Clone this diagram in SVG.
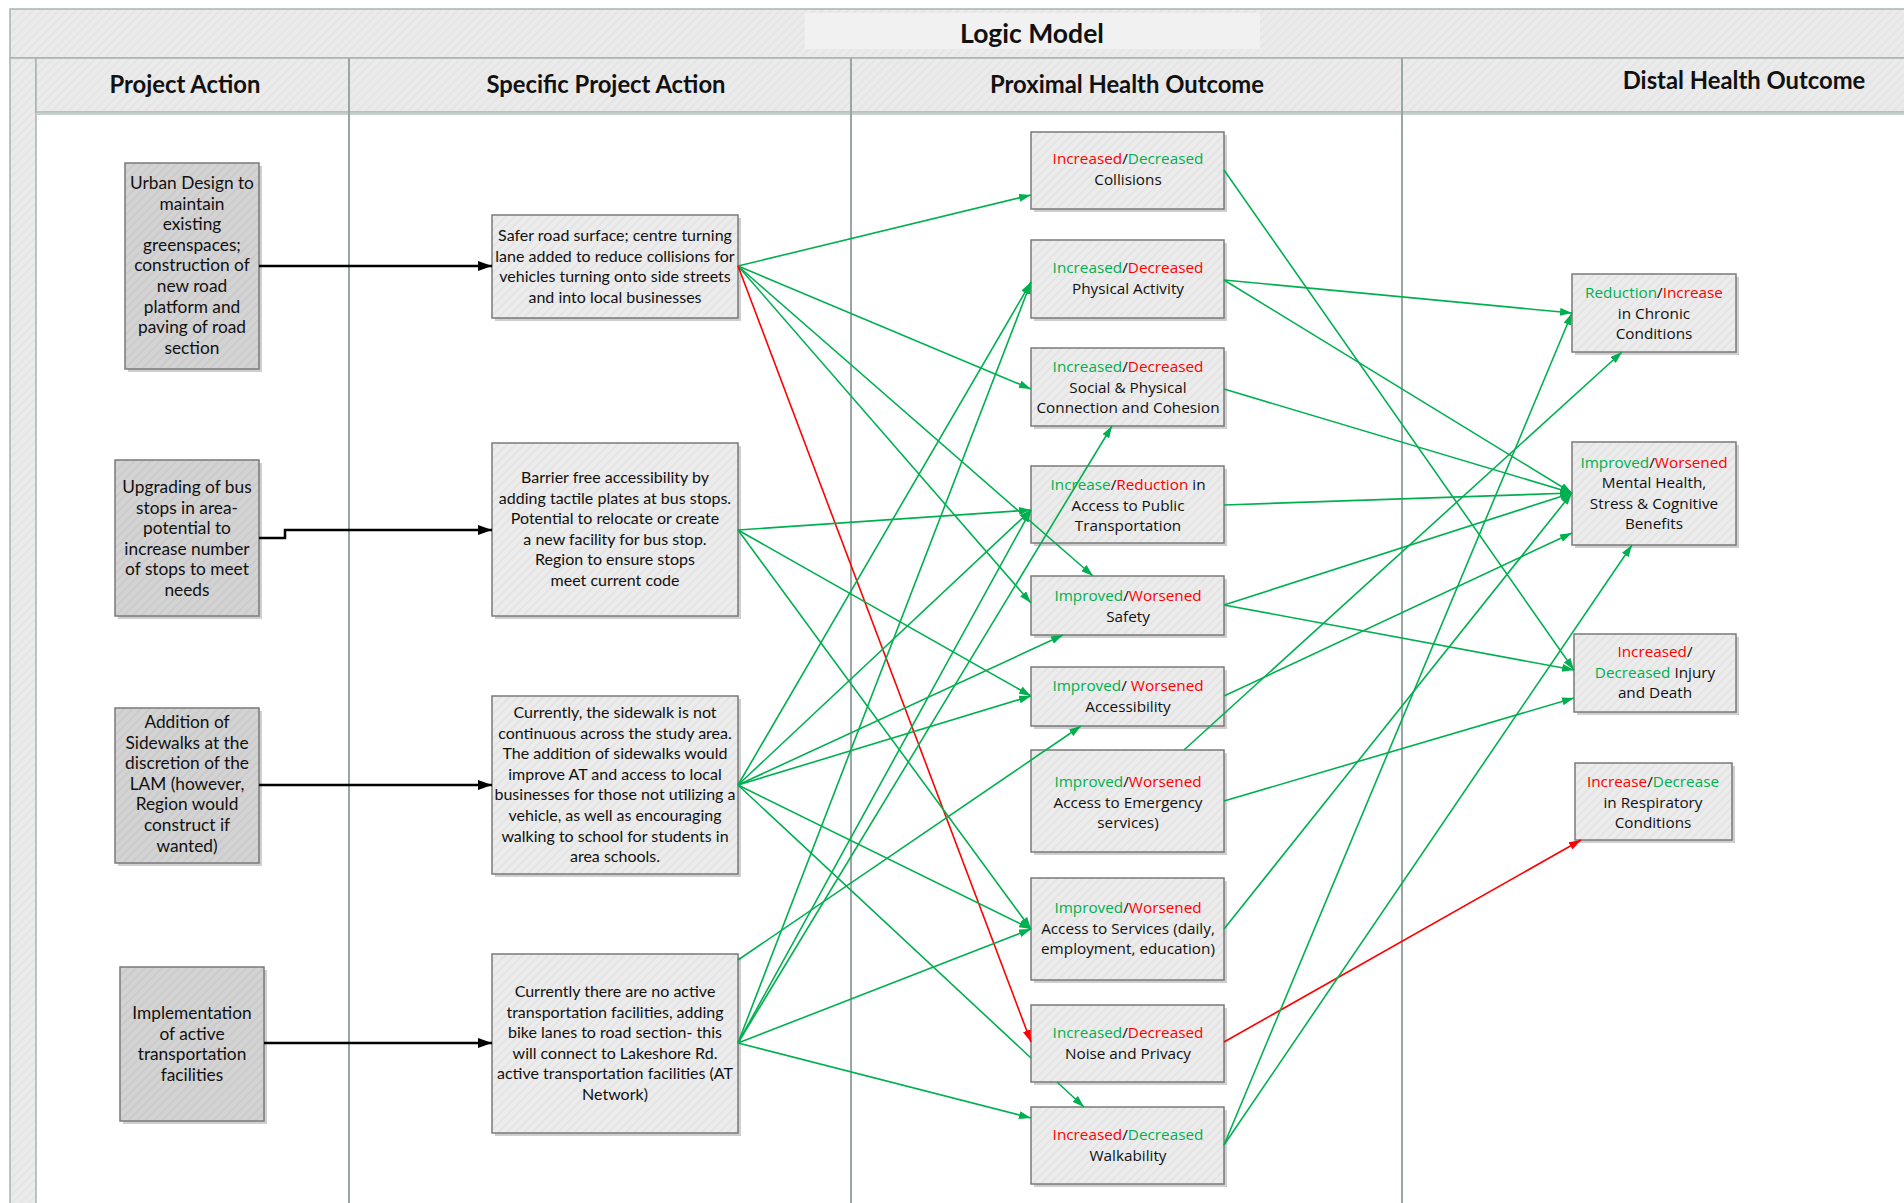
<svg xmlns="http://www.w3.org/2000/svg" width="1904" height="1203" viewBox="0 0 1904 1203">
<style>
.band{fill:url(#hband);stroke:#a6b4b1;stroke-width:1.5}
.hdr{font-family:Lato,"Liberation Sans",sans-serif;font-weight:700;font-size:23.8px;fill:#111;text-anchor:middle}
.title{font-family:Lato,"Liberation Sans",sans-serif;font-weight:700;font-size:26.5px;fill:#111;text-anchor:middle}
.lane{stroke:#9aa6a4;stroke-width:2}
.b1{fill:url(#hdark);stroke:#7a7a7a;stroke-width:1.5}
.b2{fill:url(#hlight);stroke:#7a7a7a;stroke-width:1.5}
.sh{fill:#cfcfcf}
.t1{font-family:Lato,"Liberation Sans",sans-serif;font-size:17.3px;fill:#111;text-anchor:middle}
.t2{font-family:Lato,"Liberation Sans",sans-serif;font-size:16px;fill:#111;text-anchor:middle}
.t3{font-family:"Open Sans","Noto Sans",sans-serif;font-size:15.3px;fill:#111;text-anchor:middle}
.gr{fill:#00b050}
.rd{fill:#ff0000}
.k{stroke:#000;stroke-width:2.5;fill:none;marker-end:url(#ak)}
.g{stroke:#00b050;stroke-width:1.6;fill:none;marker-end:url(#ag)}
.r{stroke:#ff0000;stroke-width:1.6;fill:none;marker-end:url(#ar)}
</style>
<defs>
<pattern id="hlight" width="6" height="6" patternUnits="userSpaceOnUse" patternTransform="rotate(45)">
<rect width="6" height="6" fill="#ececec"/><rect width="2" height="6" fill="#e4e4e4"/></pattern>
<pattern id="hdark" width="6" height="6" patternUnits="userSpaceOnUse" patternTransform="rotate(45)">
<rect width="6" height="6" fill="#d3d3d3"/><rect width="2" height="6" fill="#cbcbcb"/></pattern>
<pattern id="hband" width="6" height="6" patternUnits="userSpaceOnUse" patternTransform="rotate(45)">
<rect width="6" height="6" fill="#ebebeb"/><rect width="2" height="6" fill="#e5e5e5"/></pattern>
<marker id="ag" viewBox="0 0 12 8" refX="12" refY="4" markerWidth="12" markerHeight="8" markerUnits="userSpaceOnUse" orient="auto"><path d="M0,0 L12,4 L0,8 z" fill="#00b050"/></marker>
<marker id="ar" viewBox="0 0 12 8" refX="12" refY="4" markerWidth="12" markerHeight="8" markerUnits="userSpaceOnUse" orient="auto"><path d="M0,0 L12,4 L0,8 z" fill="#ff0000"/></marker>
<marker id="ak" viewBox="0 0 14 10" refX="14" refY="5" markerWidth="14" markerHeight="10" markerUnits="userSpaceOnUse" orient="auto"><path d="M0,0 L14,5 L0,10 z" fill="#000"/></marker>
</defs>
<rect width="1904" height="1203" fill="#fff"/>
<g id="frame">
<rect class="band" x="10" y="9" width="1900" height="49"/>
<rect x="805" y="13" width="455" height="36" fill="#f1f1f1"/>
<text class="title" x="1032" y="43">Logic Model</text>
<rect class="band" x="10" y="58" width="26" height="1150"/>
<rect class="band" x="36" y="58" width="1870" height="54"/>
<line x1="36" y1="114" x2="1904" y2="114" stroke="#c9d1cf" stroke-width="2"/>
<line class="lane" x1="349" y1="58" x2="349" y2="1203"/>
<line class="lane" x1="851" y1="58" x2="851" y2="1203"/>
<line class="lane" x1="1402" y1="58" x2="1402" y2="1203"/>
<text class="hdr" x="185" y="93">Project Action</text>
<text class="hdr" x="606" y="93">Specific Project Action</text>
<text class="hdr" x="1127" y="93">Proximal Health Outcome</text>
<text class="hdr" x="1744" y="89">Distal Health Outcome</text>
</g>
<g id="n-urban"><rect class="sh" x="128" y="166" width="134" height="206"/><rect class="b1" x="125" y="163" width="134" height="206"/>
<text class="t1" x="192" y="189"><tspan x="192">Urban Design to</tspan><tspan x="192" dy="20.6">maintain</tspan><tspan x="192" dy="20.6">existing</tspan><tspan x="192" dy="20.6">greenspaces;</tspan><tspan x="192" dy="20.6">construction of</tspan><tspan x="192" dy="20.6">new road</tspan><tspan x="192" dy="20.6">platform and</tspan><tspan x="192" dy="20.6">paving of road</tspan><tspan x="192" dy="20.6">section</tspan></text></g>
<g id="n-bus"><rect class="sh" x="118" y="463" width="144" height="156"/><rect class="b1" x="115" y="460" width="144" height="156"/>
<text class="t1" x="187" y="493"><tspan x="187">Upgrading of bus</tspan><tspan x="187" dy="20.6">stops in area-</tspan><tspan x="187" dy="20.6">potential to</tspan><tspan x="187" dy="20.6">increase number</tspan><tspan x="187" dy="20.6">of stops to meet</tspan><tspan x="187" dy="20.6">needs</tspan></text></g>
<g id="n-sidewalks"><rect class="sh" x="118" y="711" width="144" height="155"/><rect class="b1" x="115" y="708" width="144" height="155"/>
<text class="t1" x="187" y="728"><tspan x="187">Addition of</tspan><tspan x="187" dy="20.6">Sidewalks at the</tspan><tspan x="187" dy="20.6">discretion of the</tspan><tspan x="187" dy="20.6">LAM (however,</tspan><tspan x="187" dy="20.6">Region would</tspan><tspan x="187" dy="20.6">construct if</tspan><tspan x="187" dy="20.6">wanted)</tspan></text></g>
<g id="n-at"><rect class="sh" x="123" y="970" width="144" height="154"/><rect class="b1" x="120" y="967" width="144" height="154"/>
<text class="t1" x="192" y="1019"><tspan x="192">Implementation</tspan><tspan x="192" dy="20.6">of active</tspan><tspan x="192" dy="20.6">transportation</tspan><tspan x="192" dy="20.6">facilities</tspan></text></g>
<g id="n-safer"><rect class="sh" x="495" y="218" width="246" height="103"/><rect class="b2" x="492" y="215" width="246" height="103"/>
<text class="t2" x="615" y="241"><tspan x="615">Safer road surface; centre turning</tspan><tspan x="615" dy="20.6">lane added to reduce collisions for</tspan><tspan x="615" dy="20.6">vehicles turning onto side streets</tspan><tspan x="615" dy="20.6">and into local businesses</tspan></text></g>
<g id="n-barrier"><rect class="sh" x="495" y="446" width="246" height="173"/><rect class="b2" x="492" y="443" width="246" height="173"/>
<text class="t2" x="615" y="483"><tspan x="615">Barrier free accessibility by</tspan><tspan x="615" dy="20.6">adding tactile plates at bus stops.</tspan><tspan x="615" dy="20.6">Potential to relocate or create</tspan><tspan x="615" dy="20.6">a new facility for bus stop.</tspan><tspan x="615" dy="20.6">Region to ensure stops</tspan><tspan x="615" dy="20.6">meet current code</tspan></text></g>
<g id="n-sidewalk-detail"><rect class="sh" x="495" y="699" width="246" height="178"/><rect class="b2" x="492" y="696" width="246" height="178"/>
<text class="t2" x="615" y="718"><tspan x="615">Currently, the sidewalk is not</tspan><tspan x="615" dy="20.6">continuous across the study area.</tspan><tspan x="615" dy="20.6">The addition of sidewalks would</tspan><tspan x="615" dy="20.6">improve AT and access to local</tspan><tspan x="615" dy="20.6">businesses for those not utilizing a</tspan><tspan x="615" dy="20.6">vehicle, as well as encouraging</tspan><tspan x="615" dy="20.6">walking to school for students in</tspan><tspan x="615" dy="20.6">area schools.</tspan></text></g>
<g id="n-at-detail"><rect class="sh" x="495" y="957" width="246" height="179"/><rect class="b2" x="492" y="954" width="246" height="179"/>
<text class="t2" x="615" y="997"><tspan x="615">Currently there are no active</tspan><tspan x="615" dy="20.6">transportation facilities, adding</tspan><tspan x="615" dy="20.6">bike lanes to road section- this</tspan><tspan x="615" dy="20.6">will connect to Lakeshore Rd.</tspan><tspan x="615" dy="20.6">active transportation facilities (AT</tspan><tspan x="615" dy="20.6">Network)</tspan></text></g>
<g id="p-collisions"><rect class="sh" x="1034" y="135" width="193" height="77"/><rect class="b2" x="1031" y="132" width="193" height="77"/>
<text class="t3" x="1128" y="164"><tspan class="rd">Increased</tspan>/<tspan class="gr">Decreased</tspan><tspan x="1128" dy="20.6">Collisions</tspan></text></g>
<g id="p-physical"><rect class="sh" x="1034" y="243" width="193" height="78"/><rect class="b2" x="1031" y="240" width="193" height="78"/>
<text class="t3" x="1128" y="273"><tspan class="gr">Increased</tspan>/<tspan class="rd">Decreased</tspan><tspan x="1128" dy="20.6">Physical Activity</tspan></text></g>
<g id="p-social"><rect class="sh" x="1034" y="351" width="193" height="78"/><rect class="b2" x="1031" y="348" width="193" height="78"/>
<text class="t3" x="1128" y="372"><tspan class="gr">Increased</tspan>/<tspan class="rd">Decreased</tspan><tspan x="1128" dy="20.6">Social &amp; Physical</tspan><tspan x="1128" dy="20.6">Connection and Cohesion</tspan></text></g>
<g id="p-transit"><rect class="sh" x="1034" y="469" width="193" height="77"/><rect class="b2" x="1031" y="466" width="193" height="77"/>
<text class="t3" x="1128" y="490"><tspan class="gr">Increase</tspan>/<tspan class="rd">Reduction</tspan> in<tspan x="1128" dy="20.6">Access to Public</tspan><tspan x="1128" dy="20.6">Transportation</tspan></text></g>
<g id="p-safety"><rect class="sh" x="1034" y="579" width="193" height="59"/><rect class="b2" x="1031" y="576" width="193" height="59"/>
<text class="t3" x="1128" y="601"><tspan class="gr">Improved</tspan>/<tspan class="rd">Worsened</tspan><tspan x="1128" dy="20.6">Safety</tspan></text></g>
<g id="p-access"><rect class="sh" x="1034" y="670" width="193" height="59"/><rect class="b2" x="1031" y="667" width="193" height="59"/>
<text class="t3" x="1128" y="691"><tspan class="gr">Improved</tspan>/ <tspan class="rd">Worsened</tspan><tspan x="1128" dy="20.6">Accessibility</tspan></text></g>
<g id="p-emergency"><rect class="sh" x="1034" y="753" width="193" height="102"/><rect class="b2" x="1031" y="750" width="193" height="102"/>
<text class="t3" x="1128" y="787"><tspan class="gr">Improved</tspan>/<tspan class="rd">Worsened</tspan><tspan x="1128" dy="20.6">Access to Emergency</tspan><tspan x="1128" dy="20.6">services)</tspan></text></g>
<g id="p-services"><rect class="sh" x="1034" y="881" width="193" height="102"/><rect class="b2" x="1031" y="878" width="193" height="102"/>
<text class="t3" x="1128" y="913"><tspan class="gr">Improved</tspan>/<tspan class="rd">Worsened</tspan><tspan x="1128" dy="20.6">Access to Services (daily,</tspan><tspan x="1128" dy="20.6">employment, education)</tspan></text></g>
<g id="p-noise"><rect class="sh" x="1034" y="1008" width="193" height="77"/><rect class="b2" x="1031" y="1005" width="193" height="77"/>
<text class="t3" x="1128" y="1038"><tspan class="gr">Increased</tspan>/<tspan class="rd">Decreased</tspan><tspan x="1128" dy="20.6">Noise and Privacy</tspan></text></g>
<g id="p-walk"><rect class="sh" x="1034" y="1110" width="193" height="77"/><rect class="b2" x="1031" y="1107" width="193" height="77"/>
<text class="t3" x="1128" y="1140"><tspan class="rd">Increased</tspan>/<tspan class="gr">Decreased</tspan><tspan x="1128" dy="20.6">Walkability</tspan></text></g>
<g id="d-chronic"><rect class="sh" x="1575" y="277" width="164" height="78"/><rect class="b2" x="1572" y="274" width="164" height="78"/>
<text class="t3" x="1654" y="298"><tspan class="gr">Reduction</tspan>/<tspan class="rd">Increase</tspan><tspan x="1654" dy="20.6">in Chronic</tspan><tspan x="1654" dy="20.6">Conditions</tspan></text></g>
<g id="d-mental"><rect class="sh" x="1575" y="445" width="164" height="103"/><rect class="b2" x="1572" y="442" width="164" height="103"/>
<text class="t3" x="1654" y="468"><tspan class="gr">Improved</tspan>/<tspan class="rd">Worsened</tspan><tspan x="1654" dy="20">Mental Health,</tspan><tspan x="1654" dy="20.6">Stress &amp; Cognitive</tspan><tspan x="1654" dy="20.6">Benefits</tspan></text></g>
<g id="d-injury"><rect class="sh" x="1577" y="637" width="162" height="78"/><rect class="b2" x="1574" y="634" width="162" height="78"/>
<text class="t3" x="1655" y="657"><tspan class="rd">Increased</tspan>/<tspan x="1655" dy="20.6" class="gr">Decreased</tspan> Injury<tspan x="1655" dy="20.6">and Death</tspan></text></g>
<g id="d-resp"><rect class="sh" x="1578" y="766" width="157" height="77"/><rect class="b2" x="1575" y="763" width="157" height="77"/>
<text class="t3" x="1653" y="787"><tspan class="rd">Increase</tspan>/<tspan class="gr">Decrease</tspan><tspan x="1653" dy="20.6">in Respiratory</tspan><tspan x="1653" dy="20.6">Conditions</tspan></text></g>
<g id="connectors">
<line class="k" x1="259" y1="266" x2="492" y2="266"/>
<polyline class="k" points="259,538 285,538 285,530 492,530"/>
<line class="k" x1="259" y1="785" x2="492" y2="785"/>
<line class="k" x1="264" y1="1043" x2="492" y2="1043"/>
<line class="g" x1="738" y1="266" x2="1031" y2="195"/>
<line class="g" x1="738" y1="266" x2="1031" y2="389"/>
<line class="g" x1="738" y1="266" x2="1093" y2="576"/>
<line class="g" x1="738" y1="266" x2="1031" y2="603"/>
<line class="r" x1="738" y1="266" x2="1031" y2="1042"/>
<line class="g" x1="738" y1="530" x2="1031" y2="510"/>
<line class="g" x1="738" y1="530" x2="1031" y2="696"/>
<line class="g" x1="738" y1="530" x2="1031" y2="929"/>
<line class="g" x1="738" y1="785" x2="1031" y2="282"/>
<line class="g" x1="738" y1="785" x2="1031" y2="510"/>
<line class="g" x1="738" y1="785" x2="1063" y2="635"/>
<line class="g" x1="738" y1="785" x2="1031" y2="696"/>
<line class="g" x1="738" y1="785" x2="1031" y2="929"/>
<path class="g" d="M738,785 L1031,1058 M1057,1082 L1084,1107"/>
<line class="g" x1="738" y1="1043" x2="1031" y2="282"/>
<line class="g" x1="738" y1="1043" x2="1112" y2="426"/>
<line class="g" x1="738" y1="1043" x2="1031" y2="510"/>
<line class="g" x1="738" y1="1043" x2="1031" y2="929"/>
<line class="g" x1="738" y1="1043" x2="1031" y2="1118"/>
<line class="g" x1="738" y1="960" x2="1081" y2="726"/>
<line class="g" x1="1224" y1="170" x2="1574" y2="670"/>
<line class="g" x1="1224" y1="280" x2="1572" y2="313"/>
<line class="g" x1="1224" y1="280" x2="1572" y2="493"/>
<line class="g" x1="1224" y1="389" x2="1572" y2="493"/>
<line class="g" x1="1224" y1="505" x2="1572" y2="493"/>
<line class="g" x1="1224" y1="605" x2="1572" y2="493"/>
<line class="g" x1="1224" y1="605" x2="1574" y2="670"/>
<line class="g" x1="1224" y1="696" x2="1572" y2="533"/>
<line class="g" x1="1184" y1="750" x2="1622" y2="352"/>
<line class="g" x1="1224" y1="801" x2="1574" y2="698"/>
<line class="g" x1="1224" y1="929" x2="1572" y2="493"/>
<line class="r" x1="1224" y1="1042" x2="1581" y2="840"/>
<line class="g" x1="1224" y1="1145" x2="1572" y2="313"/>
<line class="g" x1="1224" y1="1145" x2="1632" y2="545"/>
</g>
</svg>
